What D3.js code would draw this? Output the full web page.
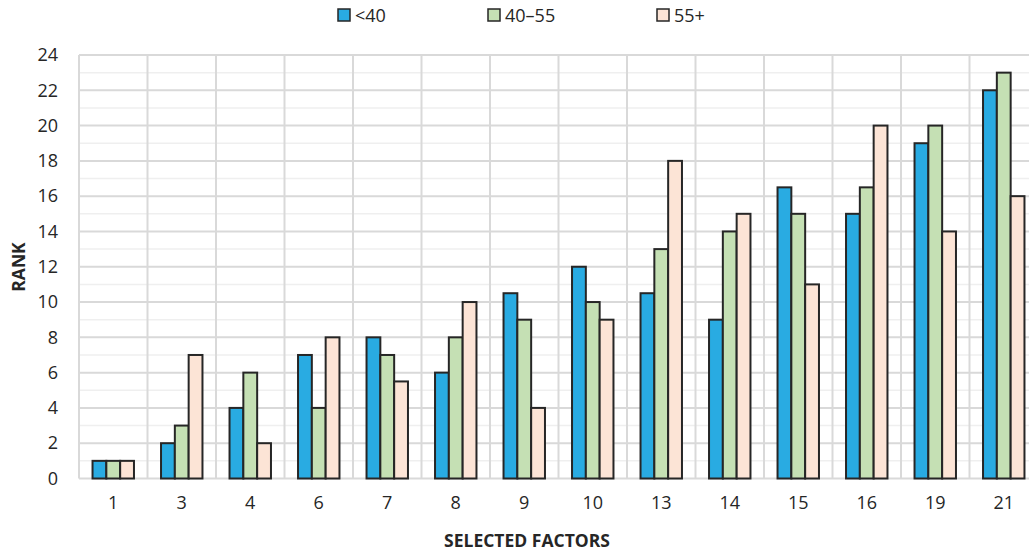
<!DOCTYPE html>
<html><head><meta charset="utf-8">
<script src="https://cdn.jsdelivr.net/npm/d3@7"></script>
<style>body{margin:0;background:#fff;}svg{display:block;font-family:"Open Sans",sans-serif;}</style>
</head><body>
<svg id="c" width="1029" height="556"></svg>
<script>
const categories = ["1","3","4","6","7","8","9","10","13","14","15","16","19","21"];
const seriesNames = ["<40","40\u201355","55+"];
const under40 = [1,2,4,7,8,6,10.5,12,10.5,9,16.5,15,19,22];
const mid40to55 = [1,3,6,4,7,8,9,10,13,14,15,16.5,20,23];
const over55 = [1,7,2,8,5.5,10,4,9,18,15,11,20,14,16];
const yTicks = [0,2,4,6,8,10,12,14,16,18,20,22,24];
const colors = ["#29abe2","#c5e0b4","#fce4d6"];
const seriesData = [under40, mid40to55, over55];

(function(){
const svg = d3.select("#c");
const pL = 79, pR = 1038, pT = 55, pB = 478.5;
const x = d3.scaleBand().domain(categories).range([pL,pR]).paddingInner(0).paddingOuter(0);
const y = d3.scaleLinear().domain([0,24]).range([pB,pT]);
const groupW = x.bandwidth()*0.605;
const xs = d3.scaleBand().domain(d3.range(3)).range([0,groupW]);

const minor = d3.range(1,24,2);
svg.append("g").selectAll("line").data(minor).join("line")
  .attr("x1",pL).attr("x2",pR).attr("y1",d=>y(d)).attr("y2",d=>y(d))
  .attr("stroke","#efefef").attr("stroke-width",1.5);
svg.append("g").selectAll("line").data(yTicks).join("line")
  .attr("x1",pL).attr("x2",pR).attr("y1",d=>y(d)).attr("y2",d=>y(d))
  .attr("stroke","#d9d9d9").attr("stroke-width",2);
const bounds = categories.map(c=>x(c)).concat([pR]);
svg.append("g").selectAll("line").data(bounds).join("line")
  .attr("x1",d=>d).attr("x2",d=>d).attr("y1",pT).attr("y2",pB)
  .attr("stroke","#d9d9d9").attr("stroke-width",2);

seriesData.forEach((arr,si)=>{
  svg.append("g").selectAll("rect").data(arr).join("rect")
    .attr("x",(d,i)=>x(categories[i]) + (x.bandwidth()-groupW)/2 + xs(si))
    .attr("width",xs.bandwidth())
    .attr("y",d=>y(d)).attr("height",d=>y(0)-y(d))
    .attr("fill",colors[si]).attr("stroke","#262626").attr("stroke-width",2);
});

const yAxis = d3.axisLeft(y).tickValues(yTicks).tickSize(0).tickPadding(21);
const gy = svg.append("g").attr("transform",`translate(${pL},0)`).call(yAxis);
gy.select(".domain").remove();
gy.selectAll("text").attr("font-size",18).attr("fill","#262626").attr("font-family","Open Sans");

const xAxis = d3.axisBottom(x).tickSize(0).tickPadding(18);
const gx = svg.append("g").attr("transform",`translate(0,${pB})`).call(xAxis);
gx.select(".domain").remove();
gx.selectAll("text").attr("font-size",18).attr("fill","#262626").attr("font-family","Open Sans");

svg.append("text").attr("x",527).attr("y",547).attr("text-anchor","middle")
  .attr("font-size",17.5).attr("font-weight","bold").attr("fill","#262626").text("SELECTED FACTORS");
svg.append("text").attr("transform",`translate(25,267) rotate(-90)`).attr("text-anchor","middle")
  .attr("font-size",17.5).attr("font-weight","bold").attr("fill","#262626").text("RANK");

const legX = [338,488,657];
const lg = svg.append("g").selectAll("g").data(seriesNames).join("g")
  .attr("transform",(d,i)=>`translate(${legX[i]},9)`);
lg.append("rect").attr("width",12).attr("height",12).attr("fill",(d,i)=>colors[i])
  .attr("stroke","#262626").attr("stroke-width",1.5);
lg.append("text").attr("x",17).attr("y",13).attr("font-size",18).attr("fill","#262626").text(d=>d);
})();
</script>
</body></html>
